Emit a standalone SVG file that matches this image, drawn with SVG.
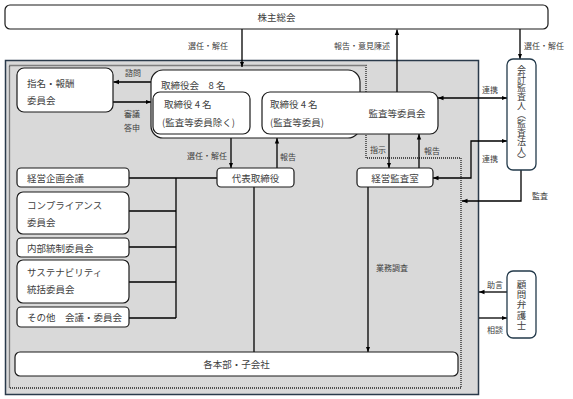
<svg xmlns="http://www.w3.org/2000/svg" width="573" height="399" viewBox="0 0 573 399">
<style>
.node{fill:#fff;stroke:#1a1a1a;stroke-width:1.2}
.ext{fill:#fff;stroke:#22394a;stroke-width:1.3}
.t{font-family:"Noto Sans CJK JP","Noto Sans",sans-serif;font-size:9.5px;fill:#404040;dominant-baseline:central}
.c{text-anchor:middle}
.lb{font-family:"Noto Sans CJK JP","Noto Sans",sans-serif;font-size:8px;fill:#404040;dominant-baseline:central;text-anchor:middle}
.v{font-family:"Noto Sans CJK JP","Noto Sans",sans-serif;font-size:9.5px;fill:#404040;writing-mode:vertical-rl;text-anchor:middle}
.ln{fill:none;stroke:#000;stroke-width:1.3}
.a{marker-end:url(#ah)}
.b{marker-start:url(#ah);marker-end:url(#ah)}
</style>
<defs>
<marker id="ah" viewBox="0 0 10 10" refX="10" refY="5" markerWidth="5.5" markerHeight="5.5" orient="auto-start-reverse" markerUnits="userSpaceOnUse"><path d="M0,1 L10,5 L0,9 z" fill="#000"/></marker>
</defs>

<g id="company-area">
<rect x="5.5" y="60.5" width="473" height="334" fill="#d9d9d9" stroke="#2b3b4b" stroke-width="1.5"/>
<path d="M9.5,65.5 H366 V158 H461 V388 H9.5 Z" fill="none" stroke="#222" stroke-width="1.3" stroke-dasharray="1 1"/>
</g>

<g id="connectors">
<path class="ln a" d="M242,29 V67"/>
<path class="ln a" d="M397,92 V29.5"/>
<path class="ln a" d="M520,29 V59"/>
<path class="ln a" d="M151,82 H113.5"/>
<path class="ln a" d="M113,102 H151"/>
<path class="ln a" d="M231,138 V168"/>
<path class="ln a" d="M277,168 V138"/>
<path class="ln a" d="M389,134 V168"/>
<path class="ln a" d="M419,168 V134"/>
<path class="ln b" d="M438,98 H507"/>
<path class="ln b" d="M433,178 H471 V141 H507"/>
<path class="ln a" d="M521,170 V201 H462"/>
<path class="ln a" d="M368,187 V352"/>
<path class="ln" d="M129,178 H217"/>
<path class="ln" d="M176,178 V318"/>
<path class="ln" d="M129,211 H176 M129,247 H176 M129,282 H176 M129,318 H176"/>
<path class="ln" d="M254,187 V352"/>
<path class="ln a" d="M507,292 H479"/>
<path class="ln a" d="M479,318 H507"/>
</g>

<g id="labels">
<text class="lb" x="208" y="45">選任・解任</text>
<text class="lb" x="362" y="45">報告・意見陳述</text>
<text class="lb" x="544" y="45">選任・解任</text>
<text class="lb" x="133" y="72">諮問</text>
<text class="lb" x="132" y="113">審議</text>
<text class="lb" x="132" y="127">答申</text>
<text class="lb" x="207" y="155">選任・解任</text>
<text class="lb" x="288" y="156">報告</text>
<text class="lb" x="378" y="149">指示</text>
<text class="lb" x="432" y="150">報告</text>
<text class="lb" x="490" y="89">連携</text>
<text class="lb" x="490" y="158">連携</text>
<text class="lb" x="540" y="195">監査</text>
<text class="lb" x="392" y="267">業務調査</text>
<text class="lb" x="495" y="284">助言</text>
<text class="lb" x="495" y="329">相談</text>
</g>

<g id="shareholders">
<rect class="node" x="5" y="5" width="543" height="24" rx="5"/>
<text class="t c" x="276.5" y="17">株主総会</text>
</g>

<g id="nomination">
<rect class="node" x="17" y="68" width="96" height="44" rx="7"/>
<text class="t" x="27" y="83">指名・報酬</text>
<text class="t" x="27" y="100">委員会</text>
</g>

<g id="board">
<rect class="node" x="151" y="70" width="209" height="68" rx="12"/>
<text class="t" x="161" y="85">取締役会　8 名</text>
</g>

<g id="directors-non-audit">
<rect class="node" x="153" y="92" width="97" height="42" rx="7"/>
<text class="t" x="164" y="104">取締役 4 名</text>
<text class="t" x="162" y="122">(監査等委員除く)</text>
</g>

<g id="directors-audit">
<rect class="node" x="262" y="92" width="176" height="42" rx="8"/>
<text class="t" x="270" y="104">取締役 4 名</text>
<text class="t" x="270" y="122">(監査等委員)</text>
</g>

<g id="audit-committee">
<text class="t c" x="397" y="113">監査等委員会</text>
</g>

<g id="ceo">
<rect class="node" x="217" y="168" width="77" height="19" rx="4"/>
<text class="t c" x="255.5" y="177.5">代表取締役</text>
</g>

<g id="internal-audit">
<rect class="node" x="357" y="168" width="76" height="19" rx="4"/>
<text class="t c" x="395" y="177.5">経営監査室</text>
</g>

<g id="mgmt-planning">
<rect class="node" x="17" y="168" width="112" height="19" rx="4"/>
<text class="t" x="27" y="177.5">経営企画会議</text>
</g>

<g id="compliance">
<rect class="node" x="17" y="192" width="112" height="42" rx="6"/>
<text class="t" x="27" y="205">コンプライアンス</text>
<text class="t" x="27" y="222">委員会</text>
</g>

<g id="internal-control">
<rect class="node" x="17" y="238" width="112" height="19" rx="4"/>
<text class="t" x="27" y="247.5">内部統制委員会</text>
</g>

<g id="sustainability">
<rect class="node" x="17" y="260" width="112" height="43" rx="6"/>
<text class="t" x="27" y="272">サステナビリティ</text>
<text class="t" x="27" y="289">統括委員会</text>
</g>

<g id="others">
<rect class="node" x="17" y="307" width="112" height="20" rx="4"/>
<text class="t" x="27" y="317">その他　会議・委員会</text>
</g>

<g id="divisions">
<rect class="node" x="15" y="352" width="443" height="24" rx="5"/>
<text class="t c" x="236.5" y="364">各本部・子会社</text>
</g>

<g id="accounting-auditor">
<rect class="ext" x="507" y="59" width="29" height="111" rx="6"/>
<text class="v" x="521.5" y="115" style="font-size:9px">会計監査人（監査法人）</text>
</g>

<g id="lawyer">
<rect class="ext" x="507" y="271" width="29" height="67" rx="6"/>
<text class="v" x="521.5" y="305" style="letter-spacing:0.8px">顧問弁護士</text>
</g>
</svg>
